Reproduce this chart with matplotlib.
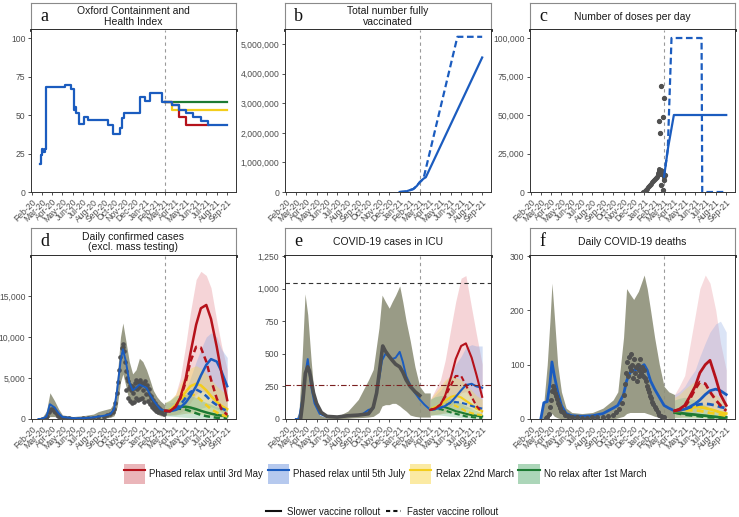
import numpy as np
import pandas as pd
import matplotlib
matplotlib.use('Agg')
import matplotlib.pyplot as plt
from matplotlib.patches import Patch
from matplotlib.lines import Line2D
from matplotlib.legend_handler import HandlerTuple
from matplotlib.ticker import FuncFormatter

plt.rcParams['font.family'] = ['Liberation Sans', 'DejaVu Sans']

# ---------------- DATA ----------------
titles = ['Oxford Containment and\nHealth Index', 'Total number fully\nvaccinated', 'Number of doses per day',
          'Daily confirmed cases\n(excl. mass testing)', 'COVID-19 cases in ICU', 'Daily COVID-19 deaths']
letters = ['a', 'b', 'c', 'd', 'e', 'f']
scen_labels = ['Phased relax until 3rd May', 'Phased relax until 5th July', 'Relax 22nd March', 'No relax after 1st March']
roll_labels = ['Slower vaccine rollout', 'Faster vaccine rollout']
split_date = '2021-03-01'

# a: Oxford index (step)
a_hist_dates = ['2020-02-25', '2020-02-28', '2020-03-02', '2020-03-05', '2020-03-09', '2020-03-12', '2020-03-14',
                '2020-05-08', '2020-05-27', '2020-06-03', '2020-06-05', '2020-06-08', '2020-06-11', '2020-06-18',
                '2020-07-04', '2020-07-15', '2020-09-14', '2020-09-29', '2020-10-18', '2020-10-25', '2020-10-30',
                '2020-12-17', '2020-12-31', '2021-01-15', '2021-02-20', '2021-03-01']
a_hist_vals = [18, 24, 28, 26, 28, 39, 68, 69.5, 67, 57, 53, 55, 51, 44, 48.5, 46.5, 43.5, 37.5, 41.5, 48, 51,
               62, 59, 64, 58.5, 58.5]
a_grn_dates = ['2021-03-01', '2021-09-01']
a_grn_vals = [58.5, 58.5]
a_yel_dates = ['2021-03-01', '2021-03-22', '2021-09-01']
a_yel_vals = [58.5, 53.5, 53.5]
a_red_dates = ['2021-03-01', '2021-03-22', '2021-04-12', '2021-05-03', '2021-07-05']
a_red_vals = [58.5, 56.5, 48.5, 43.5, 43.5]
a_blue_dates = ['2021-03-01', '2021-03-22', '2021-04-12', '2021-05-03', '2021-05-24', '2021-06-14', '2021-07-05', '2021-09-01']
a_blue_vals = [58.5, 56.5, 53.5, 51, 48.5, 46, 43.5, 43.5]

# b: total fully vaccinated
b_solid_dates = ['2021-01-01', '2021-01-20', '2021-02-10', '2021-02-20', '2021-03-01', '2021-03-12', '2021-03-19', '2021-09-01']
b_solid = [0, 20000, 100000, 200000, 330000, 450000, 500000, 4550000]
b_dash_dates = ['2021-01-01', '2021-01-20', '2021-02-10', '2021-02-20', '2021-03-01', '2021-03-12', '2021-06-20', '2021-09-01']
b_dash = [0, 20000, 100000, 200000, 330000, 450000, 5250000, 5250000]

# c: doses per day
c_obs_dates = ['2020-12-29', '2020-12-31', '2021-01-03', '2021-01-06', '2021-01-09', '2021-01-12', '2021-01-15',
               '2021-01-18', '2021-01-21', '2021-01-24', '2021-01-27', '2021-01-30', '2021-02-02', '2021-02-05',
               '2021-02-08', '2021-02-10', '2021-02-12', '2021-02-14', '2021-02-15', '2021-02-17', '2021-02-18',
               '2021-02-20', '2021-02-22', '2021-02-24', '2021-02-26', '2021-02-28']
c_obs = [0, 300, 800, 1500, 2200, 3000, 3800, 4600, 5400, 6200, 7000, 7800, 8500, 9300, 10000, 11000, 12500,
         14000, 15000, 13000, 12000, 14000, 13500, 12000, 11000, 9500]
c_out_dates = ['2021-02-14', '2021-02-18', '2021-02-19', '2021-02-21', '2021-02-25', '2021-02-26', '2021-02-28',
               '2021-03-02', '2021-03-03']
c_out = [46000, 38000, 4700, 69000, 49000, 1500, 61000, 8000, 11000]
c_solid_dates = ['2021-03-01', '2021-03-13', '2021-03-30', '2021-09-01']
c_solid = [10000, 29000, 50000, 50000]
c_dash_dates = ['2021-03-01', '2021-03-12', '2021-03-23', '2021-06-20', '2021-06-22', '2021-09-01']
c_dash = [10000, 28000, 100000, 100000, 0, 0]

# d: daily confirmed cases
d_hist_dates = ['2020-02-20', '2020-03-01', '2020-03-15', '2020-03-25', '2020-04-08', '2020-04-20', '2020-05-01',
                '2020-06-01', '2020-07-01', '2020-08-01', '2020-08-15', '2020-09-01', '2020-09-20', '2020-10-01',
                '2020-10-10', '2020-10-20', '2020-10-27', '2020-11-05', '2020-11-15', '2020-11-25', '2020-12-05',
                '2020-12-15', '2020-12-25', '2021-01-05', '2021-01-15', '2021-01-25', '2021-02-05', '2021-02-15',
                '2021-03-01']
d_hist_hi = [0, 100, 1000, 3200, 2200, 1200, 500, 300, 400, 600, 900, 1100, 1300, 2000, 5000, 10000, 11700,
             9500, 7000, 5500, 6000, 7400, 7000, 6000, 4800, 3500, 2700, 2200, 1700]
d_hist_lo = [0, 0, 0, 300, 300, 100, 30, 20, 20, 30, 50, 100, 200, 400, 1500, 4500, 5500, 4000, 2000, 1800,
             2000, 2500, 2200, 2000, 1500, 1000, 600, 400, 300]
d_fit = [0, 20, 300, 1800, 1400, 700, 250, 100, 100, 200, 300, 400, 600, 1200, 3500, 7000, 8500, 7000, 4500,
         3500, 3800, 4200, 4000, 3800, 3000, 2300, 1700, 1200, 1000]
d_obs_dates = ['2020-03-01', '2020-03-08', '2020-03-13', '2020-03-17', '2020-03-21', '2020-03-25', '2020-03-29',
               '2020-04-02', '2020-04-06', '2020-04-10', '2020-04-14', '2020-04-18', '2020-04-24', '2020-05-01',
               '2020-05-10', '2020-05-20', '2020-06-01', '2020-06-15', '2020-07-01', '2020-07-15', '2020-08-01',
               '2020-08-15', '2020-09-01', '2020-09-10', '2020-09-20', '2020-09-27', '2020-10-01', '2020-10-05',
               '2020-10-09', '2020-10-13', '2020-10-17', '2020-10-20', '2020-10-23', '2020-10-26', '2020-10-28',
               '2020-10-31', '2020-11-02', '2020-11-04', '2020-11-06', '2020-11-08', '2020-11-10', '2020-11-12',
               '2020-11-14', '2020-11-16', '2020-11-18', '2020-11-20', '2020-11-22', '2020-11-24', '2020-11-26',
               '2020-11-28', '2020-11-30', '2020-12-02', '2020-12-04', '2020-12-06', '2020-12-08', '2020-12-10',
               '2020-12-12', '2020-12-14', '2020-12-16', '2020-12-18', '2020-12-20', '2020-12-22', '2020-12-24',
               '2020-12-26', '2020-12-28', '2020-12-30', '2021-01-01', '2021-01-03', '2021-01-05', '2021-01-07',
               '2021-01-09', '2021-01-11', '2021-01-13', '2021-01-15', '2021-01-17', '2021-01-19', '2021-01-21',
               '2021-01-23', '2021-01-25', '2021-01-27', '2021-01-29', '2021-01-31', '2021-02-02', '2021-02-04',
               '2021-02-06', '2021-02-08', '2021-02-10', '2021-02-12', '2021-02-14', '2021-02-16', '2021-02-18',
               '2021-02-20', '2021-02-22', '2021-02-24', '2021-02-26', '2021-02-28']
d_obs = [0, 20, 150, 400, 800, 1100, 1250, 1200, 1000, 800, 550, 400, 250, 150, 100, 80, 50, 60, 80, 120, 150,
         200, 300, 450, 600, 800, 1200, 2000, 3200, 4500, 6000, 7500, 8600, 9200, 8800, 8300, 7000, 5800, 3500,
         5000, 2500, 4600, 3800, 2200, 4200, 3500, 2000, 4000, 3200, 2100, 3800, 4400, 2500, 4800, 3600, 2300,
         4500, 3900, 2400, 4700, 4200, 2600, 4400, 3500, 2100, 4300, 4600, 3000, 3800, 4100, 2200, 3600, 3100,
         1800, 2800, 2500, 1500, 2300, 2000, 1200, 1900, 1700, 1000, 1600, 1400, 900, 1300, 1200, 800, 1100,
         1000, 700, 1000, 900, 650, 950]
d_scen_dates = ['2021-03-01', '2021-03-15', '2021-04-01', '2021-04-15', '2021-05-01', '2021-05-15', '2021-06-01',
                '2021-06-15', '2021-07-01', '2021-07-15', '2021-08-01', '2021-08-15', '2021-09-01']
d_red_solid = [1000, 950, 1500, 2600, 4900, 8000, 11500, 13500, 13900, 12200, 8800, 5600, 2300]
d_red_dash = [1000, 950, 1500, 2500, 4500, 7000, 8800, 8700, 7000, 4800, 2500, 1200, 500]
d_blue_solid = [1000, 950, 1100, 1400, 2000, 2800, 4000, 5300, 6600, 7300, 7000, 5800, 4000]
d_blue_dash = [1000, 950, 1200, 1700, 2600, 3300, 3600, 3300, 2800, 2200, 1700, 1300, 1000]
d_yel_solid = [1000, 1100, 1700, 2500, 3300, 4000, 4300, 4100, 3500, 2800, 2100, 1600, 1200]
d_yel_dash = [1000, 1100, 1600, 2300, 2900, 3100, 2800, 2300, 1700, 1200, 800, 500, 300]
d_grn_solid = [1000, 1100, 1300, 1500, 1500, 1400, 1200, 1000, 800, 650, 500, 400, 350]
d_grn_dash = [1000, 1050, 1200, 1250, 1150, 950, 700, 500, 350, 250, 150, 100, 80]
d_red_lo = [500, 500, 600, 800, 1200, 2000, 3000, 3500, 3200, 2500, 1500, 800, 300]
d_red_hi = [2000, 2200, 3000, 5000, 9000, 13000, 17000, 18000, 17500, 16000, 12000, 9000, 6000]
d_blue_lo = [500, 450, 500, 600, 700, 850, 1000, 1300, 1500, 1500, 1200, 1000, 800]
d_blue_hi = [2000, 2000, 2000, 2600, 3500, 5000, 7000, 8500, 10000, 10500, 10000, 8500, 7500]
d_yel_lo = [500, 500, 500, 600, 700, 700, 700, 600, 500, 400, 300, 250, 200]
d_yel_hi = [2000, 2300, 3000, 4300, 5500, 6200, 6500, 6200, 5500, 4800, 4000, 3500, 3000]
d_grn_lo = [400, 350, 300, 250, 200, 150, 100, 80, 50, 40, 30, 25, 20]
d_grn_hi = [2000, 2300, 2800, 3000, 3000, 2900, 2600, 2300, 2000, 1800, 1500, 1300, 1100]

# e: ICU
e_hist_dates = ['2020-03-01', '2020-03-10', '2020-03-20', '2020-03-28', '2020-04-05', '2020-04-15', '2020-04-25',
                '2020-05-10', '2020-06-01', '2020-07-01', '2020-08-01', '2020-08-15', '2020-09-01', '2020-09-15',
                '2020-10-01', '2020-10-15', '2020-11-01', '2020-11-10', '2020-11-20', '2020-12-01', '2020-12-10',
                '2020-12-20', '2021-01-01', '2021-01-10', '2021-01-20', '2021-02-01', '2021-02-15', '2021-03-01',
                '2021-03-15', '2021-04-01']
e_hist_hi = [0, 50, 500, 960, 800, 450, 150, 30, 10, 20, 60, 100, 150, 220, 300, 380, 700, 950, 900, 850, 900,
             950, 1020, 900, 750, 600, 400, 250, 200, 200]
e_hist_lo = [0, 0, 0, 0, 0, 0, 0, 0, 0, 0, 5, 8, 10, 12, 15, 20, 50, 100, 110, 110, 120, 120, 100, 80, 60, 30,
             20, 15, 15, 15]
e_fit = [0, 0, 150, 330, 460, 250, 120, 40, 15, 15, 25, 28, 30, 40, 70, 80, 300, 450, 500, 480, 460, 470, 515,
         440, 330, 260, 200, 150, 110, 70]
e_obs_dates = ['2020-03-15', '2020-03-22', '2020-03-29', '2020-04-05', '2020-04-10', '2020-04-15', '2020-04-22',
               '2020-05-01', '2020-05-15', '2020-06-01', '2020-07-01', '2020-08-01', '2020-09-01', '2020-10-01',
               '2020-10-15', '2020-10-25', '2020-11-05', '2020-11-12', '2020-11-20', '2020-12-01', '2020-12-10',
               '2020-12-20', '2021-01-01', '2021-01-10', '2021-01-20', '2021-02-01', '2021-02-15', '2021-03-01']
e_obs = [0, 150, 350, 400, 370, 300, 200, 120, 50, 20, 15, 25, 30, 40, 90, 200, 420, 560, 520, 480, 450, 420,
         400, 360, 300, 250, 210, 180]
ef_scen_dates = ['2021-04-01', '2021-04-15', '2021-05-01', '2021-05-15', '2021-06-01', '2021-06-15', '2021-07-01',
                 '2021-07-15', '2021-08-01', '2021-08-15', '2021-09-01']
e_red_solid = [70, 80, 110, 180, 320, 460, 560, 580, 470, 340, 170]
e_red_dash = [70, 80, 110, 170, 260, 330, 330, 260, 170, 100, 50]
e_blue_solid = [70, 75, 85, 100, 130, 170, 220, 260, 270, 250, 240]
e_blue_dash = [70, 75, 85, 105, 125, 130, 125, 115, 100, 90, 80]
e_yel_solid = [75, 90, 110, 140, 170, 180, 165, 140, 110, 80, 60]
e_yel_dash = [75, 90, 105, 120, 115, 100, 80, 60, 45, 35, 30]
e_grn_solid = [75, 85, 95, 90, 75, 60, 50, 40, 30, 25, 20]
e_grn_dash = [75, 75, 75, 65, 50, 40, 30, 20, 15, 10, 8]
e_red_lo = [30, 35, 40, 60, 100, 150, 200, 210, 150, 100, 60]
e_red_hi = [150, 220, 300, 450, 700, 900, 1080, 1100, 850, 650, 420]
e_blue_lo = [30, 35, 40, 45, 50, 60, 70, 80, 80, 70, 60]
e_blue_hi = [150, 180, 220, 280, 350, 420, 480, 550, 570, 560, 560]
e_yel_lo = [30, 35, 40, 45, 50, 45, 40, 30, 20, 15, 10]
e_yel_hi = [150, 200, 250, 300, 330, 320, 300, 260, 220, 180, 150]
e_grn_lo = [30, 30, 30, 25, 20, 15, 10, 8, 5, 4, 3]
e_grn_hi = [150, 170, 180, 175, 160, 140, 120, 100, 80, 65, 50]
e_capacity = 1040
e_surge = 260

# f: deaths
f_hist_dates = ['2020-03-01', '2020-03-10', '2020-03-20', '2020-03-28', '2020-04-03', '2020-04-10', '2020-04-20',
                '2020-05-01', '2020-05-15', '2020-06-01', '2020-07-01', '2020-08-01', '2020-09-01', '2020-10-01',
                '2020-10-15', '2020-11-01', '2020-11-10', '2020-11-20', '2020-12-01', '2020-12-15', '2021-01-01',
                '2021-01-10', '2021-01-20', '2021-02-01', '2021-02-15', '2021-03-01', '2021-03-15', '2021-04-01']
f_hist_hi = [0, 30, 100, 180, 250, 190, 100, 50, 20, 12, 10, 12, 20, 35, 50, 150, 240, 230, 220, 235, 265, 240,
             200, 150, 100, 60, 50, 45]
f_hist_lo = [0, 0, 0, 5, 10, 5, 2, 0, 0, 0, 0, 0, 0, 0, 2, 5, 10, 12, 12, 12, 12, 10, 8, 5, 3, 2, 1, 1]
f_fit = [0, 30, 32, 65, 105, 80, 50, 25, 10, 6, 5, 6, 10, 20, 25, 45, 70, 85, 90, 92, 100, 90, 70, 55, 40, 25,
         20, 15]
f_obs_dates = ['2020-03-15', '2020-03-20', '2020-03-24', '2020-03-28', '2020-03-31', '2020-04-03', '2020-04-06',
               '2020-04-09', '2020-04-11', '2020-04-14', '2020-04-17', '2020-04-20', '2020-04-23', '2020-04-27',
               '2020-05-01', '2020-05-06', '2020-05-12', '2020-05-20', '2020-06-01', '2020-06-15', '2020-07-01',
               '2020-07-15', '2020-08-01', '2020-08-15', '2020-09-01', '2020-09-15', '2020-10-01', '2020-10-10',
               '2020-10-20', '2020-10-27', '2020-11-02', '2020-11-06', '2020-11-09', '2020-11-12', '2020-11-14',
               '2020-11-17', '2020-11-19', '2020-11-22', '2020-11-24', '2020-11-27', '2020-11-30', '2020-12-03',
               '2020-12-05', '2020-12-08', '2020-12-10', '2020-12-13', '2020-12-16', '2020-12-18', '2020-12-21',
               '2020-12-23', '2020-12-26', '2020-12-29', '2021-01-01', '2021-01-04', '2021-01-07', '2021-01-10',
               '2021-01-13', '2021-01-16', '2021-01-19', '2021-01-22', '2021-01-25', '2021-01-28', '2021-02-01',
               '2021-02-05', '2021-02-10', '2021-02-15', '2021-02-20', '2021-02-25', '2021-03-01']
f_obs = [1, 3, 10, 22, 35, 52, 60, 55, 48, 42, 36, 30, 26, 20, 15, 12, 8, 6, 4, 3, 2, 2, 3, 3, 4, 6, 8, 12, 18,
         30, 45, 65, 85, 105, 80, 115, 95, 120, 90, 100, 75, 110, 85, 95, 70, 100, 80, 90, 110, 85, 95, 80, 90, 75,
         70, 60, 55, 50, 42, 38, 32, 28, 22, 18, 12, 8, 5, 4, 3]
f_red_solid = [15, 18, 25, 40, 60, 85, 100, 108, 75, 45, 25]
f_red_dash = [15, 17, 22, 35, 55, 68, 65, 50, 35, 25, 15]
f_blue_solid = [15, 16, 18, 22, 28, 35, 45, 52, 55, 52, 45]
f_blue_dash = [15, 16, 18, 21, 25, 27, 28, 27, 25, 22, 20]
f_yel_solid = [15, 16, 18, 20, 22, 22, 20, 18, 15, 12, 10]
f_yel_dash = [15, 15, 16, 16, 16, 15, 13, 11, 10, 8, 6]
f_grn_solid = [12, 11, 10, 9, 8, 7, 6, 5, 4, 3, 3]
f_grn_dash = [12, 10, 8, 7, 6, 5, 4, 3, 3, 2, 2]
f_red_lo = [3, 4, 5, 8, 12, 18, 22, 22, 15, 10, 5]
f_red_hi = [45, 60, 80, 130, 190, 240, 265, 250, 200, 140, 90]
f_blue_lo = [3, 3, 4, 4, 5, 6, 8, 8, 8, 8, 6]
f_blue_hi = [45, 50, 60, 75, 90, 115, 140, 160, 175, 180, 160]
f_yel_lo = [3, 3, 3, 3, 3, 3, 2, 2, 2, 1, 1]
f_yel_hi = [40, 45, 55, 62, 70, 68, 60, 52, 45, 38, 30]
f_grn_lo = [2, 2, 2, 1, 1, 1, 1, 1, 0, 0, 0]
f_grn_hi = [35, 38, 40, 38, 35, 30, 25, 20, 15, 12, 10]

# ---------------- STYLE ----------------
LINE = {'red': '#b5121b', 'blue': '#1b5cbf', 'yel': '#f3cd1c', 'grn': '#1d7a33'}
FILL = {'red': '#e58a92', 'blue': '#8aa6e2', 'yel': '#f7d94a', 'grn': '#6fb585'}
PATCH = {'red': '#eab5b9', 'blue': '#b6c9ee', 'yel': '#fbeaa3', 'grn': '#acd6b9'}
OLIVE = '#8e9079'
OBS = '#505050'
TXT = '#4d4d4d'

W, H = 739, 517
fig = plt.figure(figsize=(W / 100, H / 100), dpi=100)


def rect(l, t, r, b):
    return [l / W, 1 - b / H, (r - l) / W, (b - t) / H]


cols = [(31, 236), (285, 491), (530, 735)]
rows = [(3, 30, 192), (228, 256, 419)]
ylims = [(0, 105.2), (0, 5.48e6), (0, 105200), (0, 19870), (0, 1250), (0, 300)]
yticks = [[0, 25, 50, 75, 100], [0, 1e6, 2e6, 3e6, 4e6, 5e6], [0, 25000, 50000, 75000, 100000],
          [0, 5000, 10000, 15000], [0, 250, 500, 750, 1000, 1250], [0, 100, 200, 300]]
months = pd.date_range('2020-02-01', '2021-09-01', freq='MS')
xlo, xhi = pd.Timestamp('2020-01-29'), pd.Timestamp('2021-09-27')
T = pd.to_datetime

axes = []
for i in range(6):
    r = rows[i // 3]
    c = cols[i % 3]
    sax = fig.add_axes(rect(c[0], r[0], c[1], r[1]))
    sax.set_xticks([]); sax.set_yticks([])
    for s in ['top', 'left', 'right']:
        sax.spines[s].set_color('#8a8a8a'); sax.spines[s].set_linewidth(0.8)
    sax.spines['bottom'].set_color('#1a1a1a'); sax.spines['bottom'].set_linewidth(2.0)
    sax.text(0.045, 0.5, letters[i], transform=sax.transAxes, ha='left', va='center',
             fontsize=13, family=['Liberation Serif', 'DejaVu Serif'], color='#111111')
    sax.text(0.5, 0.5, titles[i], transform=sax.transAxes, ha='center', va='center',
             fontsize=7.5, color='#1a1a1a', linespacing=1.1)
    ax = fig.add_axes(rect(c[0], r[1], c[1], r[2]))
    for s in ['left', 'bottom', 'right']:
        ax.spines[s].set_color('#333333'); ax.spines[s].set_linewidth(0.7)
    ax.spines['top'].set_visible(False)
    ax.set_xlim(xlo, xhi)
    ax.set_ylim(*ylims[i])
    ax.set_yticks(yticks[i])
    ax.yaxis.set_major_formatter(FuncFormatter(lambda v, p: f'{v:,.0f}'))
    ax.set_xticks(months)
    ax.set_xticklabels([m.strftime('%b-%y') for m in months], rotation=45, ha='right', va='top',
                       rotation_mode='anchor')
    ax.tick_params(axis='both', length=2.5, width=0.6, color='#333333', labelcolor=TXT, labelsize=6.2, pad=1.5)
    ax.axvline(T(split_date), color='#9a9a9a', lw=0.8, ls=(0, (3, 3)), zorder=1)
    axes.append(ax)

# panel a
ax = axes[0]
ax.step(T(a_grn_dates), a_grn_vals, where='post', color=LINE['grn'], lw=1.6, zorder=3)
ax.step(T(a_yel_dates), a_yel_vals, where='post', color=LINE['yel'], lw=1.6, zorder=3)
ax.step(T(a_red_dates), a_red_vals, where='post', color=LINE['red'], lw=1.6, zorder=4)
ax.step(T(a_blue_dates), a_blue_vals, where='post', color=LINE['blue'], lw=1.6, zorder=5)
ax.step(T(a_hist_dates), a_hist_vals, where='post', color=LINE['blue'], lw=1.6, zorder=5)

# panel b
ax = axes[1]
ax.plot(T(b_dash_dates), b_dash, color=LINE['blue'], lw=1.6, ls=(0, (3, 1.6)), zorder=3)
ax.plot(T(b_solid_dates), b_solid, color=LINE['blue'], lw=1.6, zorder=4)

# panel c
ax = axes[2]
ax.plot(T(c_obs_dates), c_obs, color=OBS, lw=2.2, marker='o', ms=2.5, zorder=3)
ax.plot(T(c_out_dates), c_out, ls='none', color=OBS, marker='o', ms=2.8, zorder=3)
ax.plot(T(c_dash_dates), c_dash, color=LINE['blue'], lw=1.6, ls=(0, (3, 1.6)), zorder=2)
ax.plot(T(c_solid_dates), c_solid, color=LINE['blue'], lw=1.6, zorder=4)


def scenarios(ax, dates, rib, sol, dsh, lw, alpha):
    x = T(dates)
    for k in ['red', 'blue', 'yel', 'grn']:
        ax.fill_between(x, rib[k][0], rib[k][1], color=FILL[k], alpha=alpha, lw=0, zorder=2)
    for k in ['grn', 'yel', 'blue', 'red']:
        ax.plot(x, dsh[k], color=LINE[k], lw=lw, ls=(0, (2.5, 1.5)), zorder=4)
        ax.plot(x, sol[k], color=LINE[k], lw=lw, zorder=4)


# panel d
ax = axes[3]
ax.fill_between(T(d_hist_dates), d_hist_lo, d_hist_hi, color=OLIVE, alpha=0.9, lw=0, zorder=2)
ax.plot(T(d_obs_dates), d_obs, ls='none', marker='o', ms=2.3, color=OBS, zorder=3)
ax.plot(T(d_hist_dates), d_fit, color=LINE['blue'], lw=1.4, zorder=3)
scenarios(ax, d_scen_dates,
          {'red': (d_red_lo, d_red_hi), 'blue': (d_blue_lo, d_blue_hi), 'yel': (d_yel_lo, d_yel_hi),
           'grn': (d_grn_lo, d_grn_hi)},
          {'red': d_red_solid, 'blue': d_blue_solid, 'yel': d_yel_solid, 'grn': d_grn_solid},
          {'red': d_red_dash, 'blue': d_blue_dash, 'yel': d_yel_dash, 'grn': d_grn_dash}, 1.8, 0.36)

# panel e
ax = axes[4]
ax.fill_between(T(e_hist_dates), e_hist_lo, e_hist_hi, color=OLIVE, alpha=0.9, lw=0, zorder=2)
ax.plot(T(e_hist_dates), e_fit, color=LINE['blue'], lw=1.4, zorder=3)
ax.plot(T(e_obs_dates), e_obs, color=OBS, lw=2.6, zorder=3)
scenarios(ax, ef_scen_dates,
          {'red': (e_red_lo, e_red_hi), 'blue': (e_blue_lo, e_blue_hi), 'yel': (e_yel_lo, e_yel_hi),
           'grn': (e_grn_lo, e_grn_hi)},
          {'red': e_red_solid, 'blue': e_blue_solid, 'yel': e_yel_solid, 'grn': e_grn_solid},
          {'red': e_red_dash, 'blue': e_blue_dash, 'yel': e_yel_dash, 'grn': e_grn_dash}, 1.5, 0.36)
ax.axhline(e_capacity, color='#333333', lw=0.8, ls=(0, (4, 3)), zorder=5)
ax.axhline(e_surge, color='#7a1f1f', lw=0.8, ls=(0, (5, 2, 1, 2)), zorder=5)

# panel f
ax = axes[5]
ax.fill_between(T(f_hist_dates), f_hist_lo, f_hist_hi, color=OLIVE, alpha=0.9, lw=0, zorder=2)
ax.plot(T(f_hist_dates), f_fit, color=LINE['blue'], lw=2.0, zorder=3)
ax.plot(T(f_obs_dates), f_obs, ls='none', marker='o', ms=2.6, color=OBS, zorder=3)
scenarios(ax, ef_scen_dates,
          {'red': (f_red_lo, f_red_hi), 'blue': (f_blue_lo, f_blue_hi), 'yel': (f_yel_lo, f_yel_hi),
           'grn': (f_grn_lo, f_grn_hi)},
          {'red': f_red_solid, 'blue': f_blue_solid, 'yel': f_yel_solid, 'grn': f_grn_solid},
          {'red': f_red_dash, 'blue': f_blue_dash, 'yel': f_yel_dash, 'grn': f_grn_dash}, 2.0, 0.3)

# legends
h1 = [(Patch(facecolor=PATCH[k], edgecolor='none'), Line2D([], [], color=LINE[k], lw=1.5))
      for k in ['red', 'blue', 'yel', 'grn']]
leg1 = fig.legend(h1, scen_labels, loc='center', bbox_to_anchor=(0.521, 0.083), ncol=4, frameon=False,
                  fontsize=6.9, handlelength=2.2, handleheight=2.9, handletextpad=0.45, columnspacing=0.5,
                  handler_map={tuple: HandlerTuple(ndivide=1, pad=0)})
for t in leg1.get_texts():
    t.set_color('#1a1a1a')
h2 = [Line2D([], [], color='#111111', lw=1.5), Line2D([], [], color='#111111', lw=1.5, ls=(0, (2, 1.5)))]
leg2 = fig.legend(h2, roll_labels, loc='center', bbox_to_anchor=(0.517, 0.01), ncol=2, frameon=False,
                  fontsize=6.9, handlelength=1.6, handletextpad=0.6, columnspacing=0.6)
for t in leg2.get_texts():
    t.set_color('#1a1a1a')

fig.savefig('out.png', dpi=100)
